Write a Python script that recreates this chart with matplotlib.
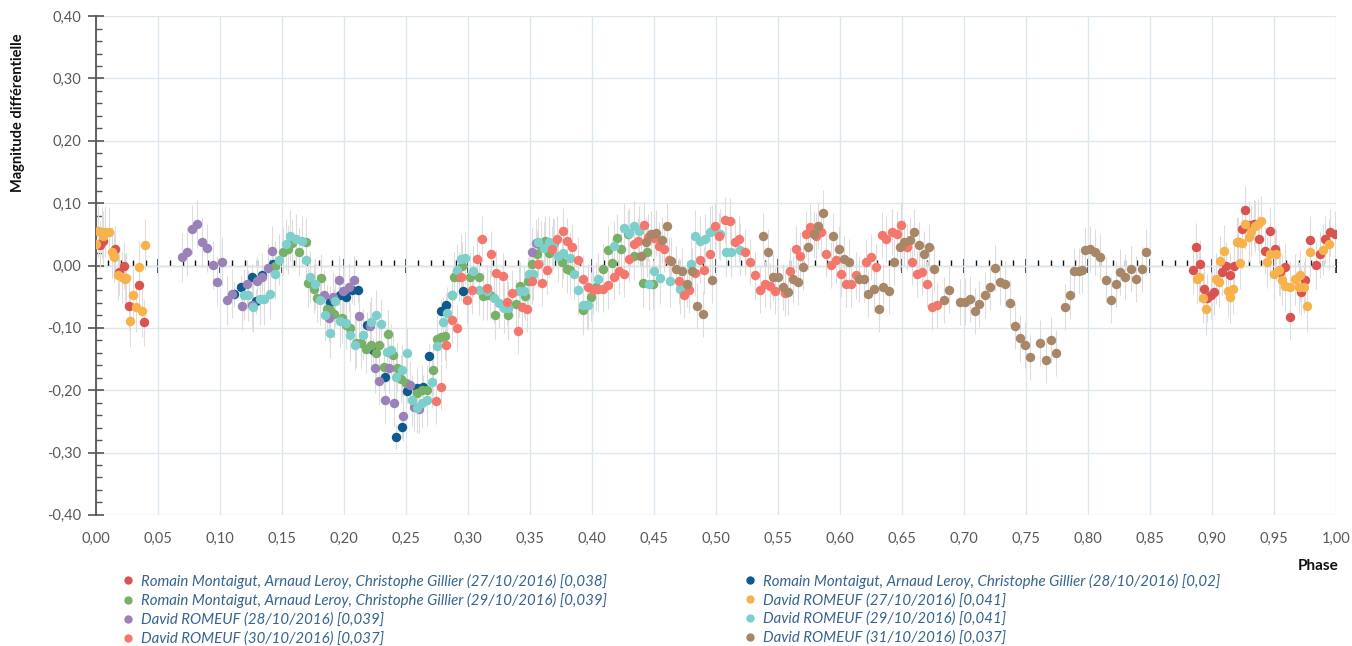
import matplotlib
matplotlib.use("Agg")
import matplotlib.pyplot as plt
from matplotlib.lines import Line2D
from matplotlib.ticker import MultipleLocator, FuncFormatter

plt.rcParams['font.family'] = ['Lato', 'DejaVu Sans']

# Romain Montaigut, Arnaud Leroy, Christophe Gillier (27/10/2016)
r27_phase = [0.003, 0.006, 0.0153, 0.0188, 0.0229, 0.027, 0.035, 0.039,
             0.8847, 0.8876, 0.8903, 0.8935, 0.896, 0.899, 0.9016, 0.9083, 0.9118, 0.9145,
             0.9177, 0.921, 0.924, 0.927, 0.9304, 0.9344, 0.9384, 0.9427, 0.9468, 0.9513,
             0.9554, 0.9589, 0.9634, 0.972, 0.9755, 0.9796, 0.984, 0.9876, 0.9917, 0.9957, 0.9997]
r27_mag = [0.033, 0.040, 0.026, -0.010, 0.0, -0.065, -0.031, -0.091,
           -0.007, 0.030, 0.003, -0.038, -0.052, -0.048, -0.042, -0.011, 0.0, -0.016,
           -0.001, 0.038, 0.058, 0.089, 0.065, 0.067, 0.042, 0.024, 0.056, 0.026,
           -0.011, -0.002, -0.082, -0.042, -0.023, 0.041, 0.001, 0.018, 0.042, 0.053, 0.050]

# Romain Montaigut, Arnaud Leroy, Christophe Gillier (28/10/2016)
r28_phase = [0.1115, 0.1167, 0.1255, 0.1288, 0.1336, 0.1425, 0.1887, 0.197, 0.2013, 0.2067,
             0.211, 0.2188, 0.2237, 0.233, 0.242, 0.2465, 0.2505, 0.259, 0.264, 0.269,
             0.278, 0.282, 0.296]
r28_mag = [-0.046, -0.035, -0.018, -0.057, -0.015, 0.003, -0.059, -0.048, -0.050, -0.040,
           -0.039, -0.095, -0.136, -0.179, -0.275, -0.259, -0.201, -0.196, -0.195, -0.145,
           -0.073, -0.064, -0.041]

# Romain Montaigut, Arnaud Leroy, Christophe Gillier (29/10/2016)
r29_phase = [0.144, 0.151, 0.155, 0.158, 0.164, 0.169, 0.171, 0.1755, 0.178, 0.1817,
             0.186, 0.189, 0.192, 0.1987, 0.202, 0.205, 0.21, 0.214, 0.218, 0.222,
             0.2255, 0.2285, 0.2323, 0.2355, 0.2395, 0.2425, 0.246, 0.25, 0.2586, 0.263,
             0.267, 0.272, 0.275, 0.278, 0.2815, 0.287, 0.289, 0.2927, 0.2954, 0.302,
             0.309, 0.312, 0.3156, 0.318, 0.3215, 0.332, 0.3387, 0.342, 0.346, 0.3487,
             0.3516, 0.3556, 0.359, 0.3624, 0.3656, 0.3696, 0.3755, 0.3796, 0.3825, 0.3928,
             0.396, 0.399, 0.4032, 0.409, 0.4126, 0.416, 0.420, 0.4234, 0.429, 0.4336,
             0.441, 0.4444, 0.449]
r29_mag = [0.0, 0.022, 0.026, 0.036, 0.022, 0.037, -0.028, -0.037, -0.052, -0.020,
           -0.070, -0.072, -0.077, -0.085, -0.095, -0.101, -0.124, -0.125, -0.134, -0.127,
           -0.141, -0.127, -0.163, -0.110, -0.144, -0.164, -0.182, -0.188, -0.204, -0.199,
           -0.199, -0.168, -0.118, -0.115, -0.113, -0.048, -0.018, -0.018, -0.001, -0.018,
           -0.018, -0.049, -0.048, -0.047, -0.080, -0.080, -0.061, -0.033, -0.049, -0.025,
           0.002, 0.018, 0.032, 0.040, 0.020, 0.036, 0.005, -0.005, -0.008, -0.072,
           -0.063, -0.050, -0.034, -0.005, 0.025, 0.004, 0.044, 0.026, 0.050, 0.016,
           -0.028, 0.021, -0.030]

# David ROMEUF (27/10/2016)
d27_phase = [0.000, 0.002, 0.0046, 0.006, 0.0073, 0.0108, 0.0127, 0.0148, 0.018, 0.0207,
             0.023, 0.0245, 0.0277, 0.030, 0.032, 0.0347, 0.037, 0.0398,
             0.888, 0.890, 0.8927, 0.8957, 0.903, 0.9056, 0.907, 0.9097, 0.9132, 0.915,
             0.9172, 0.920, 0.9228, 0.9245, 0.927, 0.9298, 0.932, 0.9347, 0.9374, 0.940,
             0.9446, 0.9473, 0.950, 0.952, 0.954, 0.9567, 0.9594, 0.9634, 0.967, 0.970,
             0.9715, 0.974, 0.9769, 0.9796, 0.990, 0.9944]
d27_mag = [0.035, 0.055, 0.053, 0.047, 0.054, 0.053, 0.021, 0.014, -0.016, -0.019,
           -0.022, -0.020, -0.089, -0.047, -0.066, -0.002, -0.073, 0.033,
           -0.021, -0.018, -0.052, -0.070, -0.021, -0.026, 0.007, 0.024, -0.041, -0.051,
           -0.037, 0.037, 0.004, 0.036, 0.067, 0.046, 0.056, 0.063, 0.066, 0.071,
           0.005, 0.018, -0.014, 0.018, -0.007, -0.023, -0.033, -0.034, -0.022, -0.035,
           -0.016, -0.035, -0.065, 0.022, 0.025, 0.034]

# David ROMEUF (28/10/2016)
d28_phase = [0.069, 0.0737, 0.0774, 0.0812, 0.0857, 0.0895, 0.094, 0.0976, 0.1016, 0.1059,
             0.110, 0.118, 0.1215, 0.126, 0.130, 0.134, 0.1385, 0.142, 0.1839, 0.188,
             0.1914, 0.196, 0.1995, 0.204, 0.208, 0.212, 0.2207, 0.225, 0.2285, 0.2334,
             0.2366, 0.2406, 0.248, 0.2532, 0.2565, 0.2605, 0.3513, 0.355]
d28_mag = [0.013, 0.022, 0.058, 0.067, 0.037, 0.028, 0.001, -0.026, 0.006, -0.056,
           -0.045, -0.065, -0.030, -0.064, -0.025, -0.019, -0.004, 0.024, -0.047, -0.084,
           -0.050, -0.024, -0.041, -0.035, -0.024, -0.081, -0.097, -0.165, -0.185, -0.215,
           -0.165, -0.220, -0.242, -0.192, -0.227, -0.230, 0.021, 0.036]

# David ROMEUF (29/10/2016)
d29_phase = [0.119, 0.123, 0.127, 0.132, 0.1355, 0.140, 0.1444, 0.148, 0.153, 0.1565,
             0.161, 0.166, 0.169, 0.173, 0.177, 0.181, 0.185, 0.189, 0.193, 0.197,
             0.2013, 0.205, 0.209, 0.215, 0.2215, 0.226, 0.230, 0.235, 0.238, 0.242,
             0.247, 0.251, 0.2546, 0.259, 0.263, 0.2667, 0.271, 0.275, 0.28, 0.283,
             0.287, 0.291, 0.2946, 0.298, 0.3037, 0.309, 0.3156, 0.321, 0.325, 0.329,
             0.3325, 0.3414, 0.345, 0.3495, 0.3527, 0.3567, 0.361, 0.3656, 0.369, 0.373,
             0.377, 0.382, 0.3858, 0.389, 0.393, 0.3965, 0.4048, 0.418, 0.426, 0.430,
             0.434, 0.438, 0.446, 0.450, 0.455, 0.463, 0.4712, 0.4798, 0.483, 0.4874,
             0.491, 0.495, 0.4965, 0.5035, 0.508, 0.512, 0.5196]
d29_mag = [-0.047, -0.048, -0.066, -0.054, -0.054, -0.045, -0.013, 0.009, 0.034, 0.048,
           0.042, 0.039, 0.009, -0.018, -0.029, -0.055, -0.080, -0.108, -0.057, -0.089,
           -0.092, -0.112, -0.127, -0.111, -0.091, -0.080, -0.094, -0.139, -0.135, -0.179,
           -0.168, -0.141, -0.216, -0.228, -0.220, -0.216, -0.187, -0.129, -0.091, -0.076,
           -0.048, -0.007, 0.010, 0.012, -0.009, -0.039, -0.041, -0.052, -0.060, -0.068,
           -0.068, -0.041, -0.041, -0.014, -0.014, 0.037, 0.028, 0.038, 0.035, 0.015,
           0.020, 0.012, -0.014, -0.039, -0.063, -0.063, -0.021, 0.031, 0.060, 0.052,
           0.063, 0.055, -0.030, -0.009, -0.020, -0.025, -0.037, 0.003, 0.048, 0.039,
           0.042, 0.054, 0.056, 0.050, 0.022, 0.022, 0.025]

# David ROMEUF (30/10/2016)
d30_phase = [0.2745, 0.2785, 0.282, 0.287, 0.291, 0.2946, 0.2995, 0.3032, 0.3075, 0.311,
             0.315, 0.319, 0.323, 0.328, 0.3317, 0.3355, 0.340, 0.344, 0.348, 0.352,
             0.3567, 0.360, 0.364, 0.368, 0.372, 0.377, 0.380, 0.384, 0.389, 0.3925,
             0.397, 0.401, 0.405, 0.409, 0.413, 0.418, 0.4215, 0.426, 0.4297, 0.434,
             0.437, 0.442, 0.4454, 0.450, 0.454, 0.458, 0.462, 0.470, 0.4745, 0.4785,
             0.483, 0.487, 0.4906, 0.4955, 0.4992, 0.5027, 0.5073, 0.511, 0.5153, 0.519,
             0.5237, 0.5277, 0.5315, 0.5358, 0.5395, 0.5438, 0.548, 0.5556, 0.56, 0.5645,
             0.568, 0.5726, 0.576, 0.5806, 0.5847, 0.5887, 0.5927, 0.5968, 0.6008, 0.6048,
             0.6089, 0.613, 0.621, 0.625, 0.629, 0.6336, 0.637, 0.6417, 0.6457, 0.6492,
             0.654, 0.6578, 0.662, 0.6664, 0.67, 0.6745, 0.678]
d30_mag = [-0.218, -0.195, -0.128, -0.087, -0.100, -0.019, -0.055, -0.040, 0.010, 0.042,
           -0.036, 0.018, -0.012, -0.017, -0.058, -0.044, -0.105, -0.066, -0.070, -0.025,
           0.003, -0.028, -0.008, 0.026, 0.042, 0.055, 0.040, 0.029, 0.009, -0.021,
           -0.035, -0.040, -0.038, -0.037, -0.032, -0.019, -0.009, -0.013, 0.011, 0.034,
           0.039, 0.065, 0.045, 0.044, 0.032, 0.026, 0.009, -0.025, -0.048, -0.039,
           -0.012, 0.009, -0.008, 0.018, 0.063, 0.047, 0.073, 0.071, 0.037, 0.042,
           0.021, 0.006, -0.016, -0.039, -0.030, -0.033, -0.041, -0.044, -0.009, 0.027,
           0.016, 0.050, 0.062, 0.048, 0.053, 0.018, 0.001, 0.009, -0.014, -0.030,
           -0.030, -0.016, 0.005, 0.013, -0.002, 0.049, 0.042, 0.054, 0.050, 0.065,
           0.030, 0.005, -0.014, -0.011, -0.030, -0.066, -0.064]

# David ROMEUF (31/10/2016)
d31_phase = [0.4395, 0.444, 0.4475, 0.4516, 0.4565, 0.4605, 0.4637, 0.4677, 0.4726, 0.4766,
             0.4806, 0.485, 0.4895, 0.4968, 0.538, 0.5417, 0.5457, 0.5497, 0.5538, 0.558,
             0.5618, 0.566, 0.5704, 0.5745, 0.5788, 0.5825, 0.5868, 0.5946, 0.599, 0.603,
             0.607, 0.6156, 0.6196, 0.623, 0.6277, 0.6317, 0.635, 0.6398, 0.6433, 0.6484,
             0.652, 0.6565, 0.66, 0.664, 0.668, 0.672, 0.6763, 0.684, 0.6884, 0.6968,
             0.7008, 0.7048, 0.7086, 0.7126, 0.717, 0.721, 0.7255, 0.7288, 0.733, 0.737,
             0.741, 0.745, 0.749, 0.753, 0.7613, 0.766, 0.77, 0.774, 0.7815, 0.786,
             0.789, 0.7927, 0.7954, 0.798, 0.802, 0.806, 0.810, 0.8148, 0.8183, 0.823,
             0.8263, 0.830, 0.835, 0.839, 0.8433, 0.847]
d31_mag = [0.016, 0.037, 0.051, 0.052, 0.041, 0.063, 0.008, -0.005, -0.009, -0.030,
           -0.009, -0.065, -0.078, -0.023, 0.048, 0.021, -0.019, -0.019, -0.034, -0.043,
           -0.021, -0.027, -0.003, 0.029, 0.051, 0.064, 0.084, 0.048, 0.026, 0.011,
           0.006, -0.021, -0.022, -0.046, -0.038, -0.070, -0.034, -0.041, 0.006, 0.029,
           0.037, 0.041, 0.053, 0.033, 0.018, 0.030, -0.005, -0.056, -0.039, -0.059,
           -0.058, -0.054, -0.073, -0.062, -0.047, -0.034, -0.004, -0.026, -0.029, -0.060,
           -0.097, -0.117, -0.127, -0.147, -0.124, -0.151, -0.119, -0.141, -0.066, -0.047,
           -0.009, -0.009, -0.007, 0.025, 0.026, 0.022, 0.014, -0.023, -0.056, -0.030,
           -0.010, -0.018, -0.005, -0.022, -0.005, 0.021]

# error values given in the legend
errors = [0.038, 0.02, 0.039, 0.041, 0.039, 0.041, 0.037, 0.037]
labels = [
    "Romain Montaigut, Arnaud Leroy, Christophe Gillier (27/10/2016) [0,038]",
    "Romain Montaigut, Arnaud Leroy, Christophe Gillier (28/10/2016) [0,02]",
    "Romain Montaigut, Arnaud Leroy, Christophe Gillier (29/10/2016) [0,039]",
    "David ROMEUF (27/10/2016) [0,041]",
    "David ROMEUF (28/10/2016) [0,039]",
    "David ROMEUF (29/10/2016) [0,041]",
    "David ROMEUF (30/10/2016) [0,037]",
    "David ROMEUF (31/10/2016) [0,037]",
]
colors = ['#d95350', '#0e5a8c', '#78b068', '#f7b24c', '#9a82b8', '#7dcfcb', '#f4776e', '#a88668']

phases = [r27_phase, r28_phase, r29_phase, d27_phase, d28_phase, d29_phase, d30_phase, d31_phase]
mags = [r27_mag, r28_mag, r29_mag, d27_mag, d28_mag, d29_mag, d30_mag, d31_mag]

fig = plt.figure(figsize=(13.52, 6.46), dpi=100)
ax = fig.add_axes([0.071, 0.203, 0.917, 0.772])

# error bars first, behind every marker
for ph, mg, err in zip(phases, mags, errors):
    ax.errorbar(ph, mg, yerr=err, fmt='none', ecolor='#dddddd', elinewidth=0.8, zorder=2)
for ph, mg, c in zip(phases, mags, colors):
    ax.plot(ph, mg, 'o', color=c, ms=6.8, mew=0, zorder=3)

ax.set_xlim(0, 1)
ax.set_ylim(-0.4, 0.4)

comma = FuncFormatter(lambda v, p: f"{v:.2f}".replace('.', ',').replace('-0,00', '0,00'))
ax.xaxis.set_major_locator(MultipleLocator(0.05))
ax.yaxis.set_major_locator(MultipleLocator(0.1))
ax.yaxis.set_minor_locator(MultipleLocator(0.02))
ax.xaxis.set_major_formatter(comma)
ax.yaxis.set_major_formatter(comma)

ax.grid(True, which='major', color='#dde7f0', linewidth=1, zorder=0)
ax.set_axisbelow(True)
for s in ['top', 'right', 'bottom']:
    ax.spines[s].set_visible(False)
ax.spines['left'].set_color('#555555')
ax.spines['left'].set_linewidth(1.3)

ax.tick_params(axis='x', length=0, pad=12, labelsize=10.5, labelcolor='#595959')
ax.tick_params(axis='y', which='major', direction='inout', length=11, width=1.2,
               color='#555555', pad=5, labelsize=10.5, labelcolor='#595959')
ax.tick_params(axis='y', which='minor', direction='in', length=4, width=1, color='#555555')

# zero line with ticks (minor ticks pointing up)
zero = ax.secondary_xaxis(0.5)
zero.xaxis.set_major_locator(MultipleLocator(0.05))
zero.xaxis.set_minor_locator(MultipleLocator(0.01))
zero.spines['bottom'].set_color('#111111')
zero.spines['bottom'].set_linewidth(1.2)
zero.tick_params(which='major', direction='inout', length=10, width=1.2, color='#111111',
                 labelbottom=False, labeltop=False)
zero.tick_params(which='minor', direction='out', length=4, width=1, color='#111111')

fig.text(0.013, 1 - 113 / 646, 'Magnitude différentielle', rotation=90, ha='center',
         va='center', fontsize=10.5, fontweight='bold', color='#111111')
fig.text(1318 / 1352, 1 - 566 / 646, 'Phase', ha='center', va='center', fontsize=11,
         fontweight='bold', color='#111111')

# legend: two columns, read row by row
handles = [Line2D([], [], marker='o', ls='none', color=c, ms=5) for c in colors]
left_idx = [0, 2, 4, 6]
right_idx = [1, 3, 5, 7]
for idx, x0 in [(left_idx, 114 / 1352), (right_idx, 736 / 1352)]:
    fig.legend([handles[i] for i in idx], [labels[i] for i in idx], loc='upper left',
               bbox_to_anchor=(x0, 1 - 566 / 646), frameon=False, borderpad=0,
               handlelength=0.8, handletextpad=0.5, labelspacing=0.3,
               prop={'style': 'italic', 'size': 10.8}, labelcolor='#35648f')

fig.savefig('out.png', dpi=100)
